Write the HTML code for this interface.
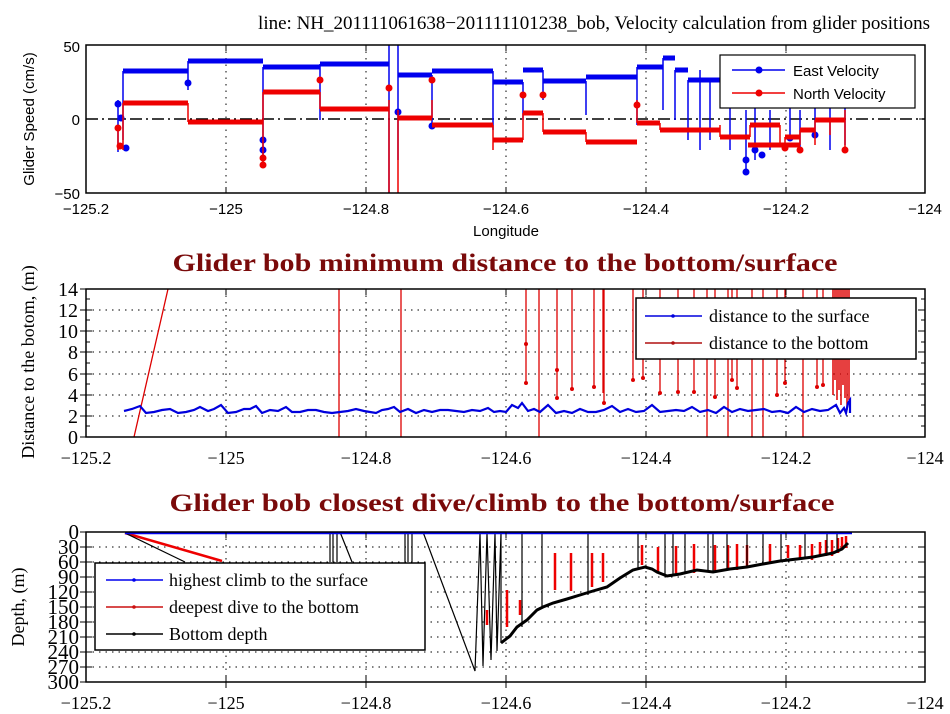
<!DOCTYPE html>
<html><head><meta charset="utf-8"><style>
html,body{margin:0;padding:0;background:#fff;}
svg{display:block;}
.s{font-family:"Liberation Sans",Arial,sans-serif;}
.r{font-family:"Liberation Serif","Times New Roman",serif;}
</style></head><body>
<svg width="950" height="714" viewBox="0 0 950 714" xmlns="http://www.w3.org/2000/svg">
<rect width="950" height="714" fill="#fff"/>

<!-- ================= TOP PANEL ================= -->
<text class="r" x="930" y="29" font-size="19" text-anchor="end" fill="#000">line: NH_201111061638−201111101238_bob, Velocity calculation from glider positions</text>
<g stroke="#000" stroke-width="1" stroke-dasharray="1.5,5">
<line x1="226" y1="45" x2="226" y2="193"/><line x1="366" y1="45" x2="366" y2="193"/>
<line x1="506" y1="45" x2="506" y2="193"/><line x1="646" y1="45" x2="646" y2="193"/>
<line x1="786" y1="45" x2="786" y2="193"/>
</g>
<line x1="86" y1="119" x2="925" y2="119" stroke="#000" stroke-width="1.5" stroke-dasharray="12,4,2,4"/>
<g stroke="#0000ee" fill="none">
<path stroke-width="5" d="M123 71H188M188 61H263M263 67H320M320 64H389M398 75H432M432 71H493M493 82H523M523 70H543M543 81H586M586 77H637M637 67H663M663 58H675M675 70H688M688 80H720"/>
<path stroke-width="1.5" d="M118 100V152M123 71V140M188 61V90M263 67V160M320 64V120M389 45V193M398 45V160M432 75V125M493 71V130M523 82V120M543 70V100M586 81V115M637 67V125M663 58V110M675 70V120M688 80V140M700 70V150M710 80V140M730 100V150M746 110V172M755 100V160M770 110V150M790 100V140M800 110V150M815 100V135M830 105V150M845 100V145"/>
</g>
<g fill="#0000ee">
<circle cx="118" cy="104" r="3.5"/><circle cx="121" cy="118" r="3.5"/><circle cx="126" cy="148" r="3.5"/><circle cx="188" cy="83" r="3.5"/><circle cx="263" cy="140" r="3.5"/><circle cx="263" cy="150" r="3.5"/><circle cx="398" cy="112" r="3.5"/><circle cx="432" cy="126" r="3.5"/><circle cx="746" cy="172" r="3.5"/><circle cx="746" cy="160" r="3.5"/><circle cx="755" cy="150" r="3.5"/><circle cx="762" cy="155" r="3.5"/><circle cx="790" cy="138" r="3.5"/><circle cx="815" cy="135" r="3.5"/>
</g>
<g stroke="#ee0000" fill="none">
<path stroke-width="5" d="M123 103H188M188 122H263M263 92H320M320 109H389M398 118H432M432 125H493M493 140H523M523 113H543M543 132H586M586 142H637M637 123H660M660 130H720M720 137H750M750 125H780M748 145H785M785 137H800M783 145H800M800 130H815M815 120H845"/>
<path stroke-width="1.5" d="M118 125V150M123 103V150M188 103V122M263 92V165M320 92V109M389 100V193M398 110V193M432 118V100M493 125V150M523 140V113M543 113V132M586 132V142M637 123V100M660 123V130M720 137V125M750 137V125M780 125V145M785 137V145M800 130V145M815 120V145M830 120V135M845 110V150"/>
</g>
<g fill="#ee0000">
<circle cx="118" cy="128" r="3.5"/><circle cx="120" cy="146" r="3.5"/><circle cx="263" cy="158" r="3.5"/><circle cx="263" cy="165" r="3.5"/><circle cx="320" cy="80" r="3.5"/><circle cx="389" cy="88" r="3.5"/><circle cx="432" cy="80" r="3.5"/><circle cx="523" cy="95" r="3.5"/><circle cx="543" cy="95" r="3.5"/><circle cx="637" cy="105" r="3.5"/><circle cx="800" cy="150" r="3.5"/><circle cx="845" cy="150" r="3.5"/><circle cx="785" cy="148" r="3.5"/>
</g>
<rect x="86" y="45" width="839" height="148" fill="none" stroke="#000" stroke-width="1.5"/>
<g stroke="#000" stroke-width="1">
<path d="M226 45v6M366 45v6M506 45v6M646 45v6M786 45v6M226 193v-6M366 193v-6M506 193v-6M646 193v-6M786 193v-6M86 119h6M925 119h-6"/>
</g>
<rect x="720" y="55" width="195" height="53" fill="#fff" stroke="#000" stroke-width="1.2"/>
<line x1="732" y1="70" x2="785" y2="70" stroke="#0000ee" stroke-width="1.5"/><circle cx="759" cy="70" r="3.5" fill="#0000ee"/>
<line x1="732" y1="93" x2="785" y2="93" stroke="#ee0000" stroke-width="1.5"/><circle cx="759" cy="93" r="3.5" fill="#ee0000"/>
<text class="s" x="793" y="76" font-size="15">East Velocity</text>
<text class="s" x="793" y="99" font-size="15">North Velocity</text>
<g class="s" font-size="15" text-anchor="end">
<text x="80" y="52">50</text><text x="80" y="125">0</text><text x="80" y="199">−50</text>
</g>
<g class="s" font-size="15" text-anchor="middle">
<text x="86" y="214">−125.2</text><text x="226" y="214">−125</text><text x="366" y="214">−124.8</text><text x="506" y="214">−124.6</text><text x="646" y="214">−124.4</text><text x="786" y="214">−124.2</text><text x="925" y="214">−124</text>
</g>
<text class="s" x="506" y="236" font-size="15" text-anchor="middle">Longitude</text>
<text class="s" transform="translate(34,119) rotate(-90)" font-size="15" text-anchor="middle">Glider Speed (cm/s)</text>

<!-- ================= MIDDLE PANEL ================= -->
<text class="r" x="505" y="271" font-size="25" font-weight="bold" fill="#7a0a0a" text-anchor="middle" textLength="665" lengthAdjust="spacingAndGlyphs">Glider bob minimum distance to the bottom/surface</text>
<g stroke="#000" stroke-width="1" stroke-dasharray="1.5,5">
<line x1="226" y1="289" x2="226" y2="437"/><line x1="366" y1="289" x2="366" y2="437"/>
<line x1="506" y1="289" x2="506" y2="437"/><line x1="646" y1="289" x2="646" y2="437"/>
<line x1="786" y1="289" x2="786" y2="437"/>
<line x1="86" y1="310" x2="925" y2="310"/><line x1="86" y1="331" x2="925" y2="331"/><line x1="86" y1="352" x2="925" y2="352"/><line x1="86" y1="374" x2="925" y2="374"/><line x1="86" y1="395" x2="925" y2="395"/><line x1="86" y1="416" x2="925" y2="416"/>
</g>
<g stroke="#dd0000" stroke-width="1.3" fill="none">
<path d="M134 437L168 289M339 289V437M401 289V437M526 289V383M539 289V437M557 289V398M572 289V389M594 289V387M604 289V403M603 289V393M633 289V380M643 289V378M660 289V393M678 289V392M694 289V392M707 289V437M715 289V397M728 289V437M732 289V380M737 289V388M752 289V437M763 289V437M777 289V395M785 289V383M803 289V437M817 289V387M823 289V385"/>
<path stroke-width="1.5" d="M833 289V395M835 289V380M837 289V400M839 289V390M841 289V405M843 289V385M845 289V398M847 289V410M849 289V400"/>
</g>
<g fill="#dd0000">
<circle cx="526" cy="383" r="2"/><circle cx="526" cy="344" r="2"/><circle cx="557" cy="398" r="2"/><circle cx="557" cy="370" r="2"/><circle cx="572" cy="389" r="2"/><circle cx="594" cy="387" r="2"/><circle cx="604" cy="403" r="2"/><circle cx="633" cy="380" r="2"/><circle cx="643" cy="378" r="2"/><circle cx="660" cy="393" r="2"/><circle cx="678" cy="392" r="2"/><circle cx="694" cy="392" r="2"/><circle cx="715" cy="397" r="2"/><circle cx="732" cy="380" r="2"/><circle cx="737" cy="388" r="2"/><circle cx="777" cy="395" r="2"/><circle cx="785" cy="383" r="2"/><circle cx="817" cy="387" r="2"/><circle cx="823" cy="385" r="2"/>
</g>
<polyline fill="none" stroke="#0000dd" stroke-width="2.2" points="124,411 132,409 140,406 146,413 154,412 162,410 170,409 178,413 186,412 194,410 200,407 208,411 214,409 221,405 228,413 236,412 244,409 250,409 256,406 262,413 270,410 278,411 286,407 292,412 300,412 308,410 316,410 324,412 332,413 340,412 348,411 356,409 364,411 370,412 376,413 382,410 388,409 394,407 400,412 408,409 416,413 424,410 432,412 440,410 448,410 456,411 464,412 472,410 480,411 488,408 494,412 500,411 506,412 512,405 518,408 522,403 528,411 534,409 540,412 548,405 556,413 564,411 572,413 580,409 588,412 596,412 604,410 612,406 620,412 628,409 636,412 644,411 652,405 660,412 668,411 676,410 684,411 692,407 700,412 708,410 716,413 724,407 732,412 740,409 748,411 756,410 764,409 772,412 780,411 788,413 796,407 804,412 812,409 820,411 828,410 836,405 840,413 844,408 846,413 848,403 850,400 850,413"/>
<rect x="86" y="289" width="839" height="148" fill="none" stroke="#000" stroke-width="1.5"/>
<g stroke="#000" stroke-width="1">
<path d="M80 289h12M80 310h12M80 331h12M80 352h12M80 374h12M80 395h12M80 416h12M80 437h12M919 310h6M919 331h6M919 352h6M919 374h6M919 395h6M919 416h6M226 289v6M366 289v6M506 289v6M646 289v6M786 289v6M226 437v-6M366 437v-6M506 437v-6M646 437v-6M786 437v-6"/>
<path d="M86 299h4M86 320h4M86 342h4M86 363h4M86 384h4M86 405h4M86 426h4M925 299h-4M925 320h-4M925 342h-4M925 363h-4M925 384h-4M925 405h-4M925 426h-4"/>
</g>
<rect x="636" y="298" width="280" height="61" fill="#fff" stroke="#000" stroke-width="1.5"/>
<line x1="645" y1="316" x2="702" y2="316" stroke="#0000dd" stroke-width="1.5"/><circle cx="673" cy="316" r="1.8" fill="#0000dd"/>
<line x1="645" y1="343" x2="702" y2="343" stroke="#b01010" stroke-width="1.5"/><circle cx="673" cy="343" r="1.8" fill="#b01010"/>
<text class="r" x="709" y="322" font-size="18">distance to the surface</text>
<text class="r" x="709" y="349" font-size="18">distance to the bottom</text>
<g class="r" font-size="20" text-anchor="end">
<text x="78" y="296">14</text><text x="78" y="317">12</text><text x="78" y="338">10</text><text x="78" y="359">8</text><text x="78" y="381">6</text><text x="78" y="402">4</text><text x="78" y="423">2</text><text x="78" y="444">0</text>
</g>
<g class="r" font-size="18" text-anchor="middle">
<text x="86" y="464">−125.2</text><text x="226" y="464">−125</text><text x="366" y="464">−124.8</text><text x="506" y="464">−124.6</text><text x="646" y="464">−124.4</text><text x="786" y="464">−124.2</text><text x="925" y="464">−124</text>
</g>
<text class="r" transform="translate(34,362) rotate(-90)" font-size="18" text-anchor="middle">Distance to the botom, (m)</text>

<!-- ================= BOTTOM PANEL ================= -->
<text class="r" x="502" y="511" font-size="25" font-weight="bold" fill="#7a0a0a" text-anchor="middle" textLength="665" lengthAdjust="spacingAndGlyphs">Glider bob closest dive/climb to the bottom/surface</text>
<g stroke="#000" stroke-width="1" stroke-dasharray="1.5,5">
<line x1="226" y1="532" x2="226" y2="682"/><line x1="366" y1="532" x2="366" y2="682"/>
<line x1="506" y1="532" x2="506" y2="682"/><line x1="646" y1="532" x2="646" y2="682"/>
<line x1="786" y1="532" x2="786" y2="682"/>
<line x1="86" y1="547" x2="925" y2="547"/><line x1="86" y1="562" x2="925" y2="562"/><line x1="86" y1="577" x2="925" y2="577"/><line x1="86" y1="592" x2="925" y2="592"/><line x1="86" y1="607" x2="925" y2="607"/><line x1="86" y1="622" x2="925" y2="622"/><line x1="86" y1="637" x2="925" y2="637"/><line x1="86" y1="652" x2="925" y2="652"/><line x1="86" y1="667" x2="925" y2="667"/>
</g>
<g stroke="#ee0000" stroke-width="2.5" fill="none">
<path d="M125 533L222 561M507 590V627M555 553V590M571 553V591M592 553V587M603 553V582M642 545V565M658 547V572M676 546V574M694 544V573M715 545V572M728 545V570M737 544V570M747 545V566M770 544V562M788 545V558M800 545V558M812 544V560M820 542V556M826 540V556M832 540V556M838 538V553M842 537V550M846 536V548M487 610V625M520 600V615"/>
</g>
<g stroke="#000" stroke-width="1.2" fill="none">
<path d="M125 533L185 562M330 532V562M333 532V562M337 532V562M340 532L352 562M405 532V562M408 532V562M412 532V562M423 532L475 671L480 533L483 666L487 533L491 660L495 533L497 651L501 533L501 643M522 532V627M542 532V607M588 532V595M638 532V570M665 532V576M673 532V576M685 532V573M708 532V572M713 532V572M727 532V570M747 532V568M763 532V565M781 532V561M805 532V558M827 532V554M837 532V552"/>
</g>
<polyline fill="none" stroke="#000" stroke-width="3" points="501,643 510,636 517,627 527,620 537,610 543,607 553,603 567,599 580,595 593,591 607,587 620,578 633,570 645,567 652,569 657,572 667,576 680,574 697,570 713,572 730,569 747,567 763,564 780,561 797,559 813,557 833,553 842,549 848,543"/>
<line x1="125" y1="533" x2="852" y2="533" stroke="#0000ee" stroke-width="2.5"/>
<rect x="86" y="532" width="839" height="150" fill="none" stroke="#000" stroke-width="1.5"/>
<g stroke="#000" stroke-width="1">
<path d="M80 532h12M80 547h12M80 562h12M80 577h12M80 592h12M80 607h12M80 622h12M80 637h12M80 652h12M80 667h12M80 682h12M919 547h6M919 562h6M919 577h6M919 592h6M919 607h6M919 622h6M919 637h6M919 652h6M919 667h6M226 532v6M366 532v6M506 532v6M646 532v6M786 532v6M226 682v6M366 682v6M506 682v6M646 682v6M786 682v6M226 682v-6M366 682v-6M506 682v-6M646 682v-6M786 682v-6"/>
</g>
<rect x="95" y="563" width="330" height="87" fill="#fff" stroke="#000" stroke-width="1.5"/>
<line x1="106" y1="580" x2="163" y2="580" stroke="#0000ee" stroke-width="1.5"/><circle cx="134" cy="580" r="1.8" fill="#0000ee"/>
<line x1="106" y1="607" x2="163" y2="607" stroke="#cc1010" stroke-width="1.5"/><circle cx="134" cy="607" r="1.8" fill="#cc1010"/>
<line x1="106" y1="634" x2="163" y2="634" stroke="#000" stroke-width="1.5"/><circle cx="134" cy="634" r="1.8" fill="#000"/>
<text class="r" x="169" y="586" font-size="18">highest climb to the surface</text>
<text class="r" x="169" y="613" font-size="18">deepest dive to the bottom</text>
<text class="r" x="169" y="640" font-size="18">Bottom depth</text>
<g class="r" font-size="21" text-anchor="end">
<text x="79" y="539">0</text><text x="79" y="554">30</text><text x="79" y="569">60</text><text x="79" y="584">90</text><text x="79" y="599">120</text><text x="79" y="614">150</text><text x="79" y="629">180</text><text x="79" y="644">210</text><text x="79" y="659">240</text><text x="79" y="674">270</text><text x="79" y="689">300</text>
</g>
<g class="r" font-size="18" text-anchor="middle">
<text x="86" y="709">−125.2</text><text x="226" y="709">−125</text><text x="366" y="709">−124.8</text><text x="506" y="709">−124.6</text><text x="646" y="709">−124.4</text><text x="786" y="709">−124.2</text><text x="925" y="709">−124</text>
</g>
<text class="r" transform="translate(24,607) rotate(-90)" font-size="18" text-anchor="middle">Depth, (m)</text>
</svg>
</body></html>
